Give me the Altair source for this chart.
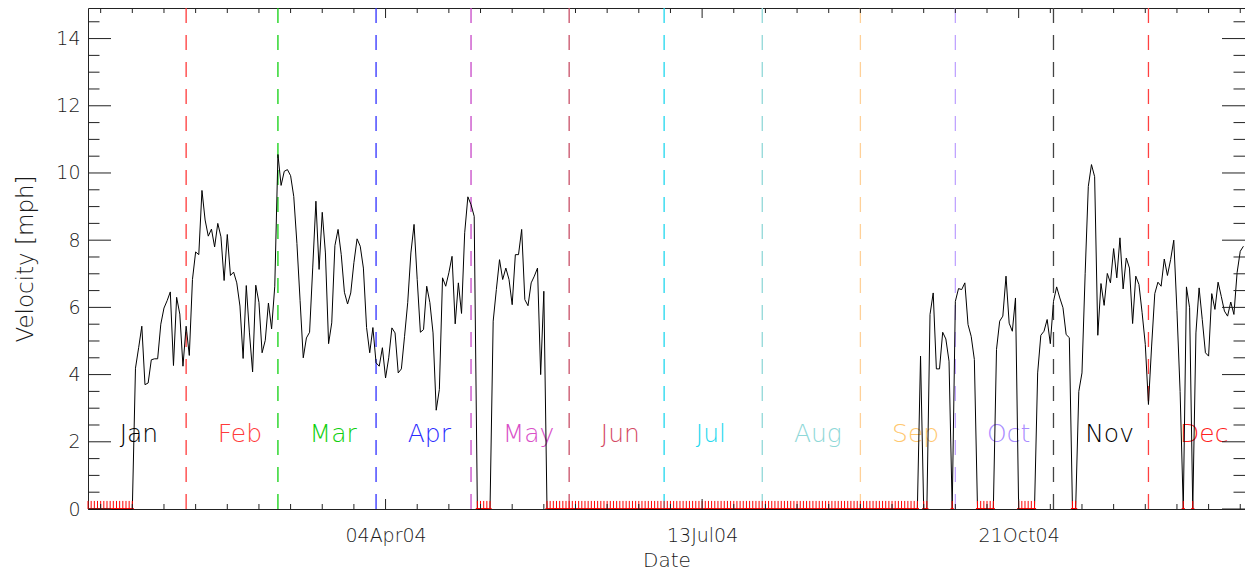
import datetime as dt
import altair as alt
import pandas as pd

# ---- daily wind velocity [mph], 2004 ----
jan = [0] * 15 + [4.19, 4.8, 5.44, 3.7, 3.75, 4.44, 4.47, 4.47, 5.5, 5.98, 6.2, 6.46, 4.27, 6.3, 5.8, 4.25]
feb = [5.44, 4.57, 6.83, 7.65, 7.57, 9.48, 8.6, 8.12, 8.33, 7.8, 8.5, 8.1, 6.8, 8.17, 6.95, 7.05, 6.73,
       6.04, 4.48, 6.65, 5.24, 4.08, 6.66, 6.15, 4.65, 5.02, 6.13, 5.36, 6.63]
mar = [10.55, 9.63, 10.05, 10.1, 9.92, 9.3, 7.9, 6.2, 4.5, 5.09, 5.26, 7.2, 9.16, 7.13, 8.83, 7.62, 4.92,
       5.54, 7.84, 8.32, 7.57, 6.45, 6.1, 6.43, 7.33, 8.04, 7.82, 7.17, 5.4, 4.65, 5.4]
apr = [4.35, 4.25, 4.8, 3.9, 4.5, 5.39, 5.24, 4.05, 4.17, 5.14, 6.14, 7.62, 8.47, 6.83, 5.26, 5.34, 6.63,
       6.14, 5.24, 2.94, 3.56, 6.88, 6.63, 7.03, 7.52, 5.51, 6.73, 5.82, 8.22, 9.29]
may = [9.06, 8.71, 0, 0, 0, 0, 0, 5.59, 6.53, 7.42, 6.83, 7.17, 6.83, 6.08, 7.57, 7.57, 8.32, 6.23, 6.05,
       6.73, 6.93, 7.17, 4.0, 6.48] + [0] * 7
jun = [0] * 30
jul = [0] * 31
aug = [0] * 31
sep = [0] * 19 + [4.55, 0, 0, 5.79, 6.43, 4.17, 4.17, 5.26, 5.06, 4.4, 0]
oct_ = [6.18, 6.56, 6.53, 6.73, 5.49, 5.14, 4.45] + [0] * 6 + [4.75, 5.59, 5.74, 6.93, 5.53, 5.29, 6.28] \
       + [0] * 6 + [4.05, 5.17, 5.29, 5.64, 4.92]
nov = [6.18, 6.61, 6.28, 5.99, 5.19, 5.1, 0, 0, 3.5, 4.05, 7.0, 9.6, 10.25, 9.89, 5.17, 6.71, 6.06, 7.01,
       6.73, 7.75, 6.88, 8.07, 6.55, 7.47, 7.17, 5.52, 6.93, 6.68, 5.84, 4.9]
dec = [3.11, 4.85, 6.41, 6.75, 6.63, 7.44, 6.95, 7.42, 8.0, 5.9, 3.5, 0, 6.61, 5.99, 0, 5.24, 6.58, 5.64,
       4.65, 4.55, 6.41, 5.94, 6.75, 6.33, 5.89, 5.74, 6.16, 5.79, 7.03, 7.67, 7.82]

month_names = ["Jan", "Feb", "Mar", "Apr", "May", "Jun", "Jul", "Aug", "Sep", "Oct", "Nov", "Dec"]
month_label_colors = ["#000000", "#ff3b3b", "#10d010", "#2b2bff", "#d94fc8", "#d44a64",
                      "#22d8ee", "#8fd8d8", "#ffc870", "#a98cff", "#000000", "#ff2020"]
month_line_colors = ["#ff3a3a", "#10d010", "#3030ff", "#c848c8", "#c85068", "#20d8ee",
                     "#90d8d8", "#ffd098", "#c0a4ff", "#444444", "#ff4040"]  # Feb..Dec

y_major = [0, 2, 4, 6, 8, 10, 12, 14]
y_minor = [v / 2 for v in range(1, 30) if (v / 2) % 2 != 0]
x_major_days = [94, 194, 294]          # 04Apr04, 13Jul04, 21Oct04
x_minor_days = [d for d in range(4, 366, 10) if d not in x_major_days]

# ---- tables ----
months = [jan, feb, mar, apr, may, jun, jul, aug, sep, oct_, nov, dec]
velocity = [v for m in months for v in m]
start = dt.date(2004, 1, 1)


def day(i):
    return (start + dt.timedelta(days=i)).isoformat()


df = pd.DataFrame({"date": [day(i) for i in range(len(velocity))], "v": velocity})
zero_idx = [i for i, v in enumerate(velocity) if v == 0]
zeros = pd.DataFrame({
    "date": [day(i) for i in zero_idx],
    "x0": [day(i - 1) + "T12:00:00Z" for i in zero_idx],
    "x1": [day(i) + "T12:00:00Z" for i in zero_idx],
})
lines = pd.DataFrame({"date": [dt.date(2004, m, 1).isoformat() for m in range(2, 13)],
                      "color": month_line_colors})
labels = pd.DataFrame({"date": [dt.date(2004, m, 11).isoformat() for m in range(1, 13)],
                       "name": month_names, "color": month_label_colors})
xmaj = pd.DataFrame({"date": [day(d) for d in x_major_days]})
xmin = pd.DataFrame({"date": [day(d) for d in x_minor_days]})
ymaj = pd.DataFrame({"y": y_major})
ymin = pd.DataFrame({"y": y_minor})

W, H = 1157, 501
FONT = "DejaVu Sans"
TXT = "#1a1a1a"

xscale = alt.Scale(type="utc", nice=False,
                   domain=[alt.DateTime(year=2004, month=1, date=1, utc=True),
                           alt.DateTime(year=2004, month=12, date=31, hours=12, utc=True)])
yscale = alt.Scale(domain=[0, 14.91], nice=False, zero=False)

xaxis = alt.Axis(values=[alt.DateTime(year=2004, month=4, date=4, utc=True),
                         alt.DateTime(year=2004, month=7, date=13, utc=True),
                         alt.DateTime(year=2004, month=10, date=21, utc=True)],
                 labelExpr="utcFormat(datum.value, '%d%b%y')", grid=False, ticks=False, domain=False,
                 labelFont=FONT, labelFontSize=19, labelFontWeight=200, labelColor=TXT,
                 labelPadding=17, title="Date", titleFont=FONT, titleFontSize=20,
                 titleFontWeight=200, titleColor=TXT, titlePadding=5)
yaxis = alt.Axis(values=y_major, grid=False, ticks=False, domain=False,
                 labelFont=FONT, labelFontSize=19, labelFontWeight=200, labelColor=TXT,
                 labelPadding=8, title="Velocity [mph]", titleFont=FONT, titleFontSize=23,
                 titleFontWeight=200, titleColor=TXT, titlePadding=18)


def X(field):
    return alt.X(field, type="temporal", scale=xscale, axis=xaxis)


def Y(field):
    return alt.Y(field, type="quantitative", scale=yscale, axis=yaxis)


def Yd(v):
    return alt.Y(datum=v, type="quantitative", scale=yscale, axis=yaxis)


month_lines = alt.Chart(lines).mark_rule(strokeDash=[15, 12], strokeWidth=1.3).encode(
    x=X("date"), color=alt.Color("color:N", scale=None))

month_text = alt.Chart(labels).mark_text(align="left", baseline="alphabetic", font=FONT,
                                         fontSize=25, fontWeight=200).encode(
    x=X("date"), y=Yd(2), text="name:N", color=alt.Color("color:N", scale=None))

series = alt.Chart(df).mark_line(color="black", strokeWidth=1).encode(x=X("date"), y=Y("v"))

zero_base = alt.Chart(zeros).mark_rule(color="#ff0000", strokeWidth=2, clip=True).encode(
    x=X("x0"), x2="x1:T", y=Yd(0))
zero_ticks = alt.Chart(zeros).mark_rule(color="#ff0000", strokeWidth=1).encode(
    x=X("date"), y=Yd(0), y2=alt.Y2(datum=0.24))

tick_color = "#222"
xt = []
for frame, length in ((xmaj, 10), (xmin, 5)):
    xt.append(alt.Chart(frame).mark_rule(color=tick_color).encode(
        x=X("date"), y=alt.value(H), y2=alt.value(H - length)))
    xt.append(alt.Chart(frame).mark_rule(color=tick_color).encode(
        x=X("date"), y=alt.value(0), y2=alt.value(length)))
yt = []
for frame, length in ((ymaj, 23), (ymin, 11.5)):
    yt.append(alt.Chart(frame).mark_rule(color=tick_color).encode(
        y=Y("y"), x=alt.value(0), x2=alt.value(length)))
    yt.append(alt.Chart(frame).mark_rule(color=tick_color).encode(
        y=Y("y"), x=alt.value(W - length), x2=alt.value(W)))

chart = alt.layer(month_lines, month_text, series, zero_base, zero_ticks, *xt, *yt).properties(
    width=W, height=H,
    autosize=alt.AutoSizeParams(type="none"),
    padding={"left": 80, "top": 0, "right": 0, "bottom": 63},
    background="white",
).configure_view(stroke="#222", strokeWidth=1)

chart.save("out.html", embed_options={"renderer": "svg", "actions": False})
